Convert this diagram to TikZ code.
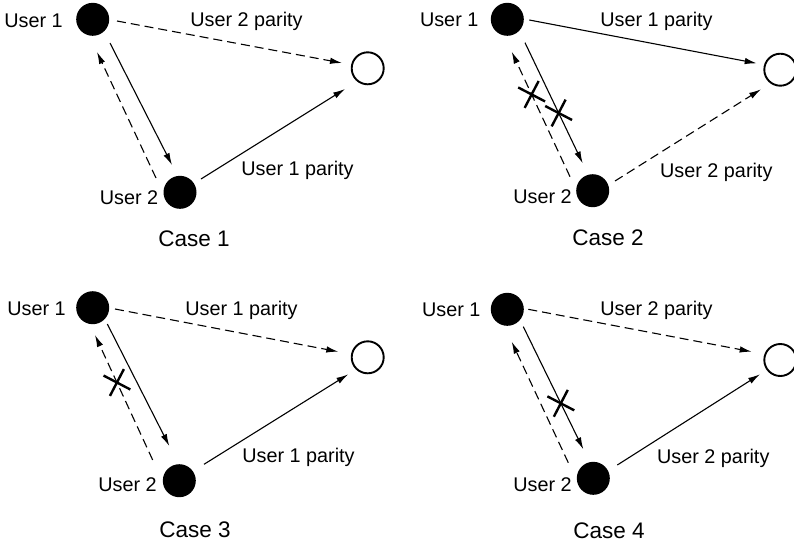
\documentclass[tikz,border=0pt]{standalone}
\usepackage{fontspec}
\setmainfont{Liberation Sans}
\usetikzlibrary{arrows.meta,calc,shapes.misc}
\tikzset{
 user/.style={circle,fill=black,inner sep=0pt,minimum size=33pt},
 dest/.style={circle,draw=black,line width=1.9pt,inner sep=0pt,minimum size=32pt},
 lbl/.style={inner sep=0pt,anchor=base,font=\fontsize{19.8pt}{22pt}\selectfont},
 caselbl/.style={inner sep=0pt,anchor=base,font=\fontsize{22.5pt}{26pt}\selectfont},
 solidarr/.style={line width=1.1pt,-{Latex[length=12pt,width=6.5pt]}},
 dasharr/.style={solidarr,dash pattern=on 9pt off 5pt},
 crossmark/.style={cross out,draw,solid,line width=2.4pt,minimum size=19pt,inner sep=0pt,rotate=17.5},
}
\begin{document}
\begin{tikzpicture}[x=1pt,y=-1pt]
\useasboundingbox (0,0) rectangle (794,547);

% ---------- Case 1 ----------
\node[user] (au1) at (92.7,19.3) {};
\node[dest] (ao) at (367.7,68.3) {};
\node[user] (au2) at (180,192.3) {};
\node[lbl] (aL1) at (33.5,27.3) {User 1};
\node[lbl] (aL2) at (129,204) {User 2};
\node[lbl] (aP1) at (246.5,26.7) {User 2 parity};
\node[lbl] (aP2) at (297.5,175) {User 1 parity};
\node[caselbl] (aC) at (194,246.7) {Case 1};
\draw[dasharr] ($(au1)+(24.3,1.7)$) -- ($(ao)+(-25.7,-5.3)$);
\draw[solidarr] ($(au1)+(17.3,23.7)$) -- ($(au2)+(-8,-27.3)$);
\draw[dasharr] ($(au2)+(-24,-14.3)$) -- ($(au1)+(4.3,32.7)$);
\draw[solidarr] ($(au2)+(21,-13.3)$) -- ($(ao)+(-22.7,20.7)$);

% ---------- Case 2 ----------
\node[user] (bu1) at (507.3,19.3) {};
\node[dest] (bo) at (780.3,69.7) {};
\node[user] (bu2) at (592.7,190.7) {};
\node[lbl] (bL1) at (449.2,26.7) {User 1};
\node[lbl] (bL2) at (542.5,203.3) {User 2};
\node[lbl] (bP1) at (656.5,26) {User 1 parity};
\node[lbl] (bP2) at (716.3,177.3) {User 2 parity};
\node[caselbl] (bC) at (608,245) {Case 2};
\draw[solidarr] ($(bu1)+(22,0.7)$) -- ($(bo)+(-23.6,-6.4)$);
\draw[solidarr] ($(bu1)+(17.7,23.4)$) -- node[crossmark,pos=0.583] (bx2) {} ($(bu2)+(-10,-27.4)$);
\draw[dasharr] ($(bu2)+(-22.7,-14)$) -- node[crossmark,pos=0.658] (bx1) {} ($(bu1)+(4.4,32.4)$);
\draw[dasharr] ($(bu2)+(22.3,-9.7)$) -- ($(bo)+(-19.3,19.6)$);

% ---------- Case 3 ----------
\node[user] (cu1) at (92.7,307.7) {};
\node[dest] (co) at (367.7,357.3) {};
\node[user] (cu2) at (179.3,480.7) {};
\node[lbl] (cL1) at (36.5,315) {User 1};
\node[lbl] (cL2) at (127.5,491.7) {User 2};
\node[lbl] (cP1) at (241.5,315) {User 1 parity};
\node[lbl] (cP2) at (298.5,462.7) {User 1 parity};
\node[caselbl] (cC) at (195,537.3) {Case 3};
\draw[dasharr] ($(cu1)+(22.3,1.3)$) -- ($(co)+(-29.4,-5.6)$);
\draw[solidarr] ($(cu1)+(14.6,16.3)$) -- ($(cu2)+(-10,-34.7)$);
\draw[dasharr] ($(cu2)+(-26.6,-20.7)$) -- node[crossmark,pos=0.62] (cx) {} ($(cu1)+(2.3,27.3)$);
\draw[solidarr] ($(cu2)+(24.7,-16.4)$) -- ($(co)+(-19.4,17)$);

% ---------- Case 4 ----------
\node[user] (du1) at (507.3,309.3) {};
\node[dest] (do) at (780.3,360) {};
\node[user] (du2) at (593.3,478.3) {};
\node[lbl] (dL1) at (451.3,316) {User 1};
\node[lbl] (dL2) at (542.5,491.7) {User 2};
\node[lbl] (dP1) at (656.5,315) {User 2 parity};
\node[lbl] (dP2) at (713.3,463.3) {User 2 parity};
\node[caselbl] (dC) at (609,538.3) {Case 4};
\draw[dasharr] ($(du1)+(21,0)$) -- ($(do)+(-28.6,-8.3)$);
\draw[solidarr] ($(du1)+(16,17.4)$) -- node[crossmark,pos=0.625] (dx) {} ($(du2)+(-10,-29)$);
\draw[dasharr] ($(du2)+(-25,-15.6)$) -- ($(du1)+(4.4,32.4)$);
\draw[solidarr] ($(du2)+(24,-13.3)$) -- ($(do)+(-20.3,14.3)$);
\end{tikzpicture}
\end{document}
